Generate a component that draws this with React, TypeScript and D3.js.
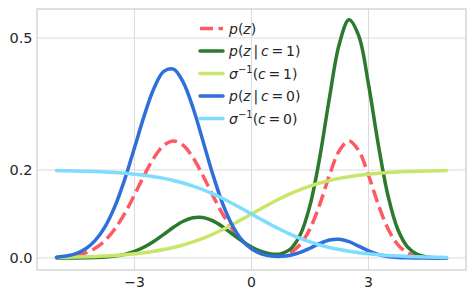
import { useEffect, useRef } from "react"
import * as d3 from "d3"

// sample points along z
const zs = [
  -5, -4.75, -4.5, -4.25, -4, -3.75, -3.5, -3.25, -3, -2.75, -2.5, -2.25, -2, -1.75, -1.5, -1.25, -1, -0.75, -0.5,
  -0.25, 0, 0.25, 0.5, 0.75, 1, 1.25, 1.5, 1.75, 2, 2.25, 2.5, 2.75, 3, 3.25, 3.5, 3.75, 4, 4.25, 4.5, 4.75, 5,
]

const pz = [
  0.001, 0.0025, 0.0056, 0.0117, 0.0225, 0.0402, 0.0663, 0.1014, 0.1435, 0.188, 0.228, 0.2559, 0.266, 0.2559, 0.228,
  0.188, 0.1435, 0.1014, 0.0663, 0.0402, 0.0226, 0.0119, 0.0066, 0.0063, 0.0127, 0.0308, 0.0664, 0.1218, 0.188,
  0.2439, 0.266, 0.2439, 0.188, 0.1218, 0.0663, 0.0304, 0.0117, 0.0038, 0.001, 0.0002, 0.0,
]

const pzGivenC1 = [
  0.0, 0.0001, 0.0001, 0.0004, 0.0009, 0.002, 0.0043, 0.0083, 0.015, 0.0249, 0.0381, 0.0537, 0.0698, 0.0834, 0.0916,
  0.0922, 0.085, 0.0717, 0.0551, 0.0388, 0.0249, 0.0147, 0.0091, 0.0094, 0.0205, 0.0527, 0.1196, 0.2286, 0.3647,
  0.486, 0.5414, 0.5049, 0.3945, 0.2583, 0.1418, 0.0654, 0.0253, 0.0083, 0.0022, 0.0005, 0.0001,
]

const sigC1 = [
  0.0013, 0.0017, 0.0022, 0.0028, 0.0036, 0.0046, 0.0059, 0.0075, 0.0095, 0.012, 0.0152, 0.0191, 0.0238, 0.0296,
  0.0365, 0.0445, 0.0538, 0.0642, 0.0755, 0.0876, 0.1, 0.1124, 0.1245, 0.1358, 0.1462, 0.1555, 0.1635, 0.1704, 0.1762,
  0.1809, 0.1848, 0.188, 0.1905, 0.1925, 0.1941, 0.1954, 0.1964, 0.1972, 0.1978, 0.1983, 0.1987,
]

const pzGivenC0 = [
  0.0019, 0.0045, 0.0101, 0.0211, 0.0405, 0.0719, 0.1179, 0.1788, 0.2504, 0.3236, 0.3859, 0.424, 0.4291, 0.3993,
  0.3414, 0.2676, 0.1921, 0.1261, 0.0756, 0.0414, 0.0207, 0.0095, 0.0046, 0.0037, 0.0063, 0.0126, 0.0222, 0.033,
  0.041, 0.0426, 0.037, 0.0268, 0.0163, 0.0083, 0.0036, 0.0013, 0.0004, 0.0001, 0.0, 0.0, 0.0,
]

const sigC0 = [
  0.1987, 0.1983, 0.1978, 0.1972, 0.1964, 0.1954, 0.1941, 0.1925, 0.1905, 0.188, 0.1848, 0.1809, 0.1762, 0.1704,
  0.1635, 0.1555, 0.1462, 0.1358, 0.1245, 0.1124, 0.1, 0.0876, 0.0755, 0.0642, 0.0538, 0.0445, 0.0365, 0.0296, 0.0238,
  0.0191, 0.0152, 0.012, 0.0095, 0.0075, 0.0059, 0.0046, 0.0036, 0.0028, 0.0022, 0.0017, 0.0013,
]

const xTicks = [-3, 0, 3]
const xTickLabels = ["\u22123", "0", "3"]
const yTicks = [0, 0.2, 0.5]
const yTickLabels = ["0.0", "0.2", "0.5"]

// legend label pieces: [text, italic, superscript]
type Piece = [string, number, number?]
const sp = "\u2009"
const seriesList: { values: number[]; color: string; dashed: boolean; label: Piece[] }[] = [
  { values: pz, color: "#ff5a62", dashed: true, label: [["p", 1], ["(", 0], ["z", 1], [")", 0]] },
  {
    values: pzGivenC1,
    color: "#2b7a2e",
    dashed: false,
    label: [["p", 1], ["(", 0], ["z", 1], [`${sp}|${sp}`, 0], ["c", 1], [`${sp}=${sp}1)`, 0]],
  },
  { values: sigC1, color: "#c8e66a", dashed: false, label: [["σ", 1], ["−1", 0, 1], ["(", 0], ["c", 1], [`${sp}=${sp}1)`, 0]] },
  {
    values: pzGivenC0,
    color: "#2e6fda",
    dashed: false,
    label: [["p", 1], ["(", 0], ["z", 1], [`${sp}|${sp}`, 0], ["c", 1], [`${sp}=${sp}0)`, 0]],
  },
  { values: sigC0, color: "#80dcff", dashed: false, label: [["σ", 1], ["−1", 0, 1], ["(", 0], ["c", 1], [`${sp}=${sp}0)`, 0]] },
]

const Chart = () => {
  const svgRef = useRef<SVGSVGElement>(null)

  useEffect(() => {
    if (!svgRef.current) return
    const svg = d3.select(svgRef.current)
    svg.selectAll("*").remove()

    const left = 37
    const right = 466
    const top = 9
    const bottom = 270
    const font = "DejaVu Sans, sans-serif"
    const textColor = "#262626"

    const x = d3.scaleLinear().domain([-5.5, 5.5]).range([left, right])
    const y = d3.scaleLinear().domain([-0.0273, 0.5659]).range([bottom, top])

    // grid
    svg
      .selectAll(".xgrid")
      .data(xTicks)
      .enter()
      .append("line")
      .attr("x1", (d) => x(d))
      .attr("x2", (d) => x(d))
      .attr("y1", top)
      .attr("y2", bottom)
      .attr("stroke", "#dcdcdc")
      .attr("stroke-width", 1.1)

    svg
      .selectAll(".ygrid")
      .data(yTicks)
      .enter()
      .append("line")
      .attr("x1", left)
      .attr("x2", right)
      .attr("y1", (d) => y(d))
      .attr("y2", (d) => y(d))
      .attr("stroke", "#dcdcdc")
      .attr("stroke-width", 1.1)

    // curves
    const line = d3
      .line<number>()
      .x((_, i) => x(zs[i]))
      .y((d) => y(d))
      .curve(d3.curveCatmullRom)

    seriesList.forEach((s) => {
      svg
        .append("path")
        .datum(s.values)
        .attr("fill", "none")
        .attr("stroke", s.color)
        .attr("stroke-width", 3.5)
        .attr("stroke-linecap", s.dashed ? "butt" : "round")
        .attr("stroke-linejoin", "round")
        .attr("stroke-dasharray", s.dashed ? "13,5.5" : null)
        .attr("d", line)
    })

    // frame
    svg
      .append("rect")
      .attr("x", left)
      .attr("y", top)
      .attr("width", right - left)
      .attr("height", bottom - top)
      .attr("fill", "none")
      .attr("stroke", "#d0d0d0")
      .attr("stroke-width", 1.3)

    // tick labels
    svg
      .selectAll(".xlab")
      .data(xTicks)
      .enter()
      .append("text")
      .attr("x", (d) => x(d))
      .attr("y", 287)
      .attr("text-anchor", "middle")
      .attr("font-family", font)
      .attr("font-size", 14)
      .attr("fill", textColor)
      .text((_, i) => xTickLabels[i])

    svg
      .selectAll(".ylab")
      .data(yTicks)
      .enter()
      .append("text")
      .attr("x", 32.5)
      .attr("y", (d) => y(d) + 5.2)
      .attr("text-anchor", "end")
      .attr("font-family", font)
      .attr("font-size", 14.5)
      .attr("fill", textColor)
      .text((_, i) => yTickLabels[i])

    // legend
    seriesList.forEach((s, i) => {
      const cy = 28.5 + i * 22.5
      svg
        .append("line")
        .attr("x1", 200)
        .attr("x2", 223)
        .attr("y1", cy)
        .attr("y2", cy)
        .attr("stroke", s.color)
        .attr("stroke-width", 3.5)
        .attr("stroke-linecap", s.dashed ? "butt" : "round")
        .attr("stroke-dasharray", s.dashed ? "13,5.5" : null)

      const t = svg
        .append("text")
        .attr("x", 229)
        .attr("y", cy + 5)
        .attr("font-family", font)
        .attr("font-size", 14)
        .attr("fill", textColor)
        .attr("xml:space", "preserve")
      let shift = 0
      s.label.forEach(([txt, italic, sup]) => {
        const dy = sup ? -6 : -shift
        shift = sup ? -6 : 0
        t.append("tspan")
          .attr("font-style", italic ? "italic" : "normal")
          .attr("font-size", sup ? 10 : 14)
          .attr("dy", dy)
          .text(txt)
      })
    })
  }, [])

  return (
    <div style={{ position: "absolute", left: 0, top: 0, background: "#fff" }}>
      <svg ref={svgRef} width={475} height={299}></svg>
    </div>
  )
}

export default function App() {
  return <Chart />
}
